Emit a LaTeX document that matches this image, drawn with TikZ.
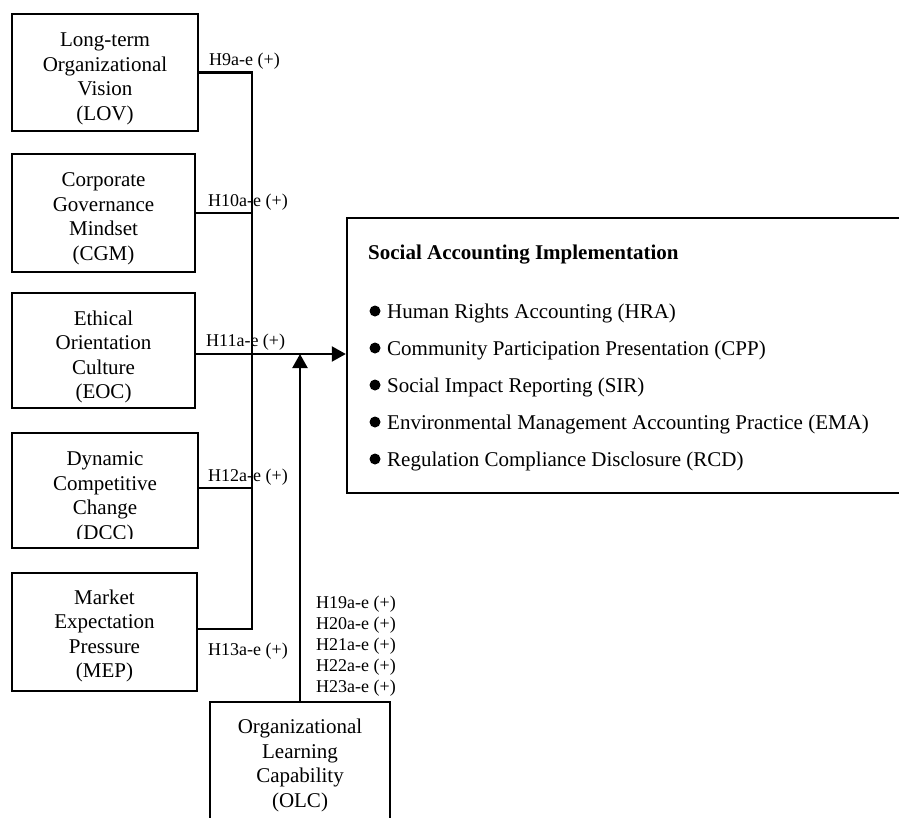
\documentclass[tikz,border=0pt]{standalone}
\usepackage{fontspec}
\setmainfont{Liberation Serif}
\usetikzlibrary{arrows.meta}
\begin{document}
\begin{tikzpicture}[x=1pt,y=-1pt,
  box/.style={draw, line width=2.4pt, rectangle, inner sep=0pt},
  boxtext/.style={inner sep=0pt, align=center, font=\fontsize{21}{24.5}\selectfont},
  link/.style={line width=2.2pt},
  tip/.style={-{Triangle[width=15pt,length=14pt]}},
  hyp/.style={font=\fontsize{18}{21}\selectfont, anchor=base west, inner sep=0pt},
  item/.style={font=\fontsize{21}{25}\selectfont, anchor=base west, inner sep=0pt},
  heading/.style={font=\fontsize{21}{25}\selectfont\bfseries, anchor=base west, inner sep=0pt}
]
\clip (0,0) rectangle (899,817);

% antecedent constructs
\node[box, minimum width=186pt, minimum height=117pt] (LOV) at (105,72.5) {};
\node[boxtext] (LOVtext) at ([yshift=-6.5pt]LOV.center)
  {Long-term\\Organizational\\Vision\\(LOV)};
\node[box, minimum width=183pt, minimum height=118pt] (CGM) at (103.5,213) {};
\node[boxtext] (CGMtext) at ([yshift=-6pt]CGM.center)
  {Corporate\\Governance\\Mindset\\(CGM)};
\node[box, minimum width=183pt, minimum height=115pt] (EOC) at (103.5,350.5) {};
\node[boxtext] (EOCtext) at ([yshift=-6.5pt]EOC.center)
  {Ethical\\Orientation\\Culture\\(EOC)};
\node[box, minimum width=186pt, minimum height=115pt] (DCC) at (105,490.5) {};
\begin{scope}
  \clip (DCC.north west) rectangle ([yshift=10.5pt]DCC.south east);
  \node[boxtext] (DCCtext) at ([yshift=-7.5pt]DCC.center)
    {Dynamic\\Competitive\\Change\\(DCC)};
\end{scope}
\node[box, minimum width=185pt, minimum height=118pt] (MEP) at (104.5,632) {};
\node[boxtext] (MEPtext) at ([yshift=-4pt]MEP.center)
  {Market\\Expectation\\Pressure\\(MEP)};

% moderator
\node[box, minimum width=180pt, minimum height=140pt] (OLC) at (300,772) {};
\node[boxtext] (OLCtext) at (300,765.5)
  {Organizational\\Learning\\Capability\\(OLC)};

% outcome construct
\node[box, minimum width=563pt, minimum height=275pt] (SAI) at (628.5,355.5) {};
\node[heading] (SAIhead) at (368,259) {Social Accounting Implementation};
\foreach \t [count=\i] in {Human Rights Accounting (HRA),
    Community Participation Presentation (CPP),
    Social Impact Reporting (SIR),
    Environmental Management Accounting Practice (EMA),
    Regulation Compliance Disclosure (RCD)} {
  \pgfmathsetmacro{\yb}{318.5+(\i-1)*37}
  \fill (375,\yb-7.5) circle (5.5pt);
  \node[item] (item\i) at (387,\yb) {\t};
}

% connectors
\coordinate (bus) at (252,0);
\path ([yshift=-3.5pt]EOC.east) coordinate (eocout);
\path ([yshift=2.5pt]DCC.east) coordinate (dccout);
\path ([yshift=3pt]MEP.east) coordinate (mepout);
\draw[link] (LOV.east) -- (LOV.east -| bus) -- (mepout -| bus) -- (mepout);
\draw[link] (CGM.east) -- (CGM.east -| bus);
\draw[link] (dccout) -- (dccout -| bus);
\draw[link, tip] (eocout) -- (eocout -| SAI.west);
\draw[link, tip] (OLC.north) -- (OLC.north |- eocout);

% hypothesis labels
\node[hyp] (h9)  at (209,65)  {H9a-e (+)};
\node[hyp] (h10) at (208,206) {H10a-e (+)};
\node[hyp] (h11) at (206,346) {H11a-e (+)};
\node[hyp] (h12) at (208,481) {H12a-e (+)};
\node[hyp] (h13) at (208,655) {H13a-e (+)};
\foreach \n [count=\i] in {19,20,21,22,23} {
  \node[hyp] (h\n) at (316,{608+(\i-1)*21.2}) {H\n a-e (+)};
}
\end{tikzpicture}
\end{document}
